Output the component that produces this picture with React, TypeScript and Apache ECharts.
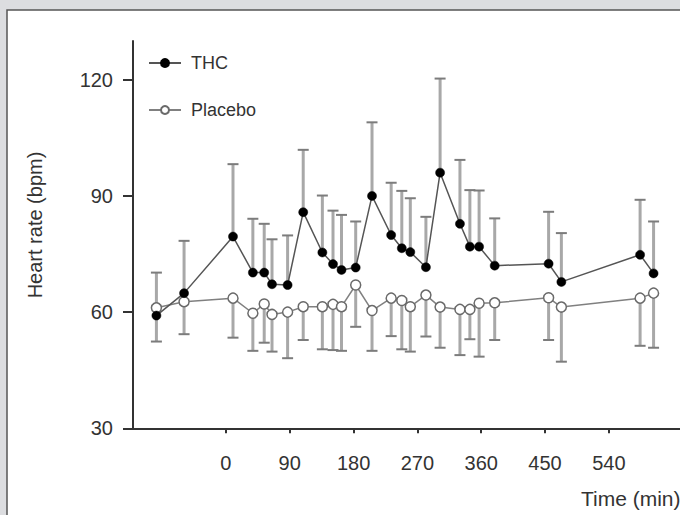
import React, { useEffect, useRef } from "react";
import * as echarts from "echarts";

const times = [-98, -59, 10, 38, 54, 65, 87, 109, 136, 151, 163, 183, 206, 233, 248, 260, 282, 302, 330, 344, 357, 379, 455, 473, 584, 603];
const thcMean = [59.1, 64.9, 79.5, 70.2, 70.2, 67.2, 67.0, 85.8, 75.4, 72.4, 70.9, 71.5, 90.0, 79.9, 76.5, 75.5, 71.6, 96.0, 82.8, 76.9, 76.9, 72.0, 72.5, 67.8, 74.8, 70.0];
const thcUpper = [70.2, 78.4, 98.2, 84.1, 82.8, 78.8, 79.8, 101.9, 90.1, 86.2, 85.1, 83.4, 109.0, 93.4, 91.3, 89.4, 84.6, 120.3, 99.3, 91.5, 91.4, 84.2, 85.9, 80.4, 89.0, 83.4];
const placeboMean = [61.1, 62.7, 63.6, 59.7, 62.1, 59.4, 60.0, 61.4, 61.4, 62.0, 61.4, 67.0, 60.4, 63.6, 63.0, 61.4, 64.4, 61.3, 60.7, 60.7, 62.3, 62.4, 63.7, 61.3, 63.6, 64.9];
const placeboLower = [52.4, 54.3, 53.4, 50.0, 52.1, 49.8, 48.1, 52.8, 50.4, 50.2, 50.0, 56.2, 50.0, 53.8, 50.4, 49.8, 53.7, 50.8, 48.9, 53.0, 48.5, 52.8, 52.8, 47.2, 51.3, 50.8];
const xTicks = [0, 90, 180, 270, 360, 450, 540];
const yTicks = [30, 60, 90, 120];

const FONT = "Liberation Sans, Arial, Helvetica, sans-serif";

function errorBar(barColor: string, capColor: string) {
  return (params: any, api: any) => {
    const x = api.value(0);
    const p1 = api.coord([x, api.value(1)]);
    const p2 = api.coord([x, api.value(2)]);
    return {
      type: "group",
      children: [
        { type: "line", shape: { x1: p1[0], y1: p1[1], x2: p2[0], y2: p2[1] }, style: { stroke: barColor, lineWidth: 3 } },
        { type: "line", shape: { x1: p2[0] - 5.5, y1: p2[1], x2: p2[0] + 5.5, y2: p2[1] }, style: { stroke: capColor, lineWidth: 2 } },
      ],
    };
  };
}

export default function App() {
  const ref = useRef<HTMLDivElement>(null);
  useEffect(() => {
    if (!ref.current) return;
    const chart = echarts.init(ref.current, undefined, { renderer: "svg" });
    chart.setOption({
      animation: false,
      backgroundColor: "#dcdde0",
      textStyle: { fontFamily: FONT },
      graphic: [
        { type: "rect", z: -10, shape: { x: 7, y: 10, width: 800, height: 560 }, style: { fill: "#ffffff", stroke: "#555555", lineWidth: 1.5 } },
        { type: "text", x: 35, y: 225, rotation: Math.PI / 2, style: { text: "Heart rate (bpm)", fontSize: 20, fontFamily: FONT, fill: "#333", align: "center", verticalAlign: "middle" } },
        { type: "text", x: 581, y: 498, style: { text: "Time (min)", fontSize: 21, fontFamily: FONT, fill: "#333", align: "left", verticalAlign: "middle" } },
      ],
      legend: {
        data: ["THC", "Placebo"],
        orient: "vertical",
        left: 148,
        top: 54,
        padding: 0,
        itemWidth: 32,
        itemHeight: 10,
        itemGap: 29,
        textStyle: { fontSize: 18, lineHeight: 18, color: "#333", fontFamily: FONT, padding: [0, 0, 0, 5] },
      },
      grid: { left: 133, top: 41, bottom: 86.7, width: 561 },
      xAxis: {
        type: "value",
        min: -131,
        max: 660,
        axisLine: { show: true, onZero: false, lineStyle: { color: "#333", width: 2 } },
        axisTick: { show: true, length: 5, customValues: xTicks, lineStyle: { color: "#333", width: 2 } },
        axisLabel: { customValues: xTicks, fontSize: 20, color: "#333", margin: 25, fontFamily: FONT },
        splitLine: { show: false },
      },
      yAxis: {
        type: "value",
        min: 30,
        max: 130,
        axisLine: { show: true, onZero: false, lineStyle: { color: "#333", width: 2 } },
        axisTick: { show: true, length: 10, customValues: yTicks, lineStyle: { color: "#333", width: 2 } },
        axisLabel: { customValues: yTicks, fontSize: 20, color: "#333", margin: 20, fontFamily: FONT },
        splitLine: { show: false },
      },
      series: [
        {
          type: "custom",
          name: "thcErr",
          renderItem: errorBar("#a8a8a8", "#7c7c7c"),
          data: times.map((t, i) => [t, thcMean[i], thcUpper[i]]),
          z: 1,
        },
        {
          type: "custom",
          name: "placeboErr",
          renderItem: errorBar("#a8a8a8", "#7c7c7c"),
          data: times.map((t, i) => [t, placeboMean[i], placeboLower[i]]),
          z: 1,
        },
        {
          type: "line",
          name: "Placebo",
          data: times.map((t, i) => [t, placeboMean[i]]),
          symbol: "circle",
          symbolSize: 10,
          lineStyle: { color: "#808080", width: 1.5 },
          itemStyle: { color: "#ffffff", borderColor: "#6a6a6a", borderWidth: 1.5 },
          z: 3,
        },
        {
          type: "line",
          name: "THC",
          data: times.map((t, i) => [t, thcMean[i]]),
          symbol: "circle",
          symbolSize: 9,
          lineStyle: { color: "#555555", width: 1.5 },
          itemStyle: { color: "#000000", borderColor: "#000000", borderWidth: 0.5 },
          z: 4,
        },
      ],
    });
    return () => chart.dispose();
  }, []);
  return (
    <div style={{ position: "fixed", left: 0, top: 0, width: 680, height: 515, overflow: "hidden" }}>
      <div ref={ref} style={{ width: 760, height: 515 }} />
    </div>
  );
}
